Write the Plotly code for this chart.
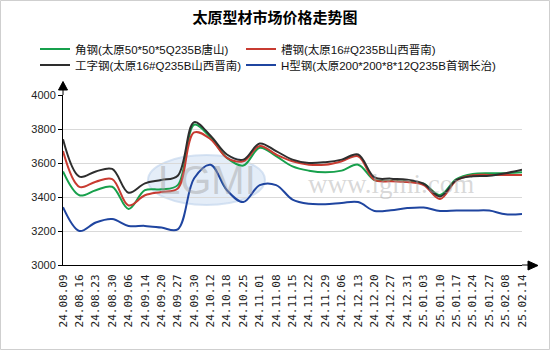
import plotly.graph_objects as go

title = "太原型材市场价格走势图"
categories = ['24.08.09', '24.08.16', '24.08.23', '24.08.30', '24.09.06', '24.09.14', '24.09.20',
              '24.09.27', '24.09.30', '24.10.12', '24.10.18', '24.10.25', '24.11.01', '24.11.08',
              '24.11.15', '24.11.22', '24.11.29', '24.12.06', '24.12.13', '24.12.20', '24.12.27',
              '24.12.31', '25.01.03', '25.01.10', '25.01.17', '25.01.24', '25.01.27', '25.02.08',
              '25.02.14']

name_angle = "角钢(太原50*50*5Q235B唐山)"
name_channel = "槽钢(太原16#Q235B山西晋南)"
name_ibeam = "工字钢(太原16#Q235B山西晋南)"
name_hbeam = "H型钢(太原200*200*8*12Q235B首钢长治)"

angle = [3550, 3410, 3440, 3460, 3330, 3440, 3445, 3470, 3825, 3750, 3630, 3585, 3690, 3640,
         3580, 3555, 3545, 3555, 3590, 3500, 3495, 3490, 3478, 3412, 3505, 3535, 3540, 3540, 3545]
channel = [3670, 3460, 3490, 3505, 3350, 3410, 3430, 3450, 3780, 3740, 3630, 3610, 3700, 3650,
           3610, 3590, 3590, 3610, 3640, 3500, 3492, 3488, 3470, 3388, 3498, 3528, 3530, 3530, 3530]
ibeam = [3740, 3520, 3550, 3565, 3425, 3480, 3500, 3525, 3840, 3760, 3650, 3620, 3715, 3670,
         3620, 3600, 3605, 3620, 3650, 3515, 3508, 3502, 3478, 3403, 3500, 3522, 3525, 3540, 3560]
hbeam = [3340, 3200, 3250, 3270, 3230, 3230, 3220, 3210, 3510, 3590, 3440, 3370, 3470, 3470,
         3385, 3360, 3358, 3365, 3370, 3318, 3322, 3335, 3338, 3318, 3320, 3320, 3320, 3298, 3300]

y_ticks = [3000, 3200, 3400, 3600, 3800, 4000]

# plot-area geometry (pixels) used for decorations
W, H = 550, 350
L, R, T, B = 63, 28, 95, 85
PW, PH = W - L - R, H - T - B


def px(x):
    return (x - L) / PW


def py(y):
    return (H - B - y) / PH


fig = go.Figure()
series = [
    (name_angle, angle, '#17a04c', 'legend'),
    (name_channel, channel, '#c83b31', 'legend'),
    (name_ibeam, ibeam, '#2e2e2e', 'legend2'),
    (name_hbeam, hbeam, '#1f45a0', 'legend3'),
]
for nm, vals, col, lg in series:
    fig.add_trace(go.Scatter(
        x=categories, y=vals, name=nm, mode='lines',
        line=dict(color=col, width=2, shape='spline', smoothing=1.0),
        legend=lg, hoverinfo='skip'))

base_font = "Liberation Sans, Arial, Noto Sans CJK SC, sans-serif"
leg_font = dict(family=base_font, size=11.5, color='#111')

shapes = [
    # outer border
    dict(type='rect', xref='paper', yref='paper', x0=px(0.5), x1=px(549.5), y0=py(349.5), y1=py(0.5),
         line=dict(color='#cfcfcf', width=1), fillcolor='rgba(0,0,0,0)', layer='below'),
    # watermark ellipse
    dict(type='circle', xref='paper', yref='paper', x0=px(148), x1=px(265), y0=py(205), y1=py(155),
         line=dict(color='rgba(190,210,235,0.6)', width=2), fillcolor='rgba(205,222,242,0.55)', layer='below'),
    # y axis extension + arrow
    dict(type='line', xref='paper', yref='paper', x0=0, x1=0, y0=1, y1=py(89),
         line=dict(color='black', width=1)),
    dict(type='path', xref='paper', yref='paper',
         path=f"M {px(58.5)},{py(90)} L {px(67.5)},{py(90)} L {px(63)},{py(81.5)} Z",
         fillcolor='black', line=dict(color='black', width=1)),
    # x axis extension + arrow
    dict(type='line', xref='paper', yref='paper', x0=1, x1=px(529), y0=0, y1=0,
         line=dict(color='black', width=1)),
    dict(type='path', xref='paper', yref='paper',
         path=f"M {px(528)},{py(261)} L {px(528)},{py(270)} L {px(538)},{py(265.5)} Z",
         fillcolor='black', line=dict(color='black', width=1)),
]

annotations = [
    dict(text="LGMI", xref='paper', yref='paper', x=px(207), y=py(180), showarrow=False,
         font=dict(family="Liberation Sans, Arial", size=40, color='rgba(160,160,160,0.45)'),
         xanchor='center', yanchor='middle'),
    dict(text="www.lgmi.com", xref='paper', yref='paper', x=px(391), y=py(184), showarrow=False,
         font=dict(family="Liberation Serif, Times New Roman, serif", size=27,
                   color='rgba(170,170,170,0.45)'),
         xanchor='center', yanchor='middle'),
]

fig.update_layout(
    width=W, height=H,
    margin=dict(l=L, r=R, t=T, b=B),
    paper_bgcolor='white', plot_bgcolor='white',
    title=dict(text=title, x=0.5, xref='container', xanchor='center',
               y=1 - 17.5 / H, yref='container', yanchor='middle',
               font=dict(family="Noto Sans CJK SC, sans-serif", size=15, color='black', weight='bold')),
    legend=dict(orientation='h', x=px(35), xanchor='left', y=py(49), yanchor='middle',
                entrywidth=161, entrywidthmode='pixels', itemwidth=30,
                font=leg_font, bgcolor='rgba(0,0,0,0)', traceorder='normal'),
    legend2=dict(orientation='h', x=px(35), xanchor='left', y=py(65), yanchor='middle',
                 font=leg_font, bgcolor='rgba(0,0,0,0)'),
    legend3=dict(orientation='h', x=px(241), xanchor='left', y=py(65), yanchor='middle',
                 font=leg_font, bgcolor='rgba(0,0,0,0)'),
    showlegend=True,
    xaxis=dict(type='category', range=[0, len(categories) - 1], showgrid=False, zeroline=False,
               showline=True, linecolor='black', linewidth=1, ticks='', tickangle=-90,
               tickfont=dict(family="DejaVu Sans Mono, monospace", size=11, color='#222'),
               ticklabelstandoff=4),
    yaxis=dict(range=[3000, 4000], tickvals=y_ticks, showgrid=True, gridcolor='#d9d9d9', gridwidth=1,
               zeroline=False, showline=True, linecolor='black', linewidth=1,
               ticks='outside', ticklen=4, tickcolor='black',
               tickfont=dict(family=base_font, size=11, color='#222')),
    shapes=shapes,
    annotations=annotations,
)

fig.write_html("out.html")
